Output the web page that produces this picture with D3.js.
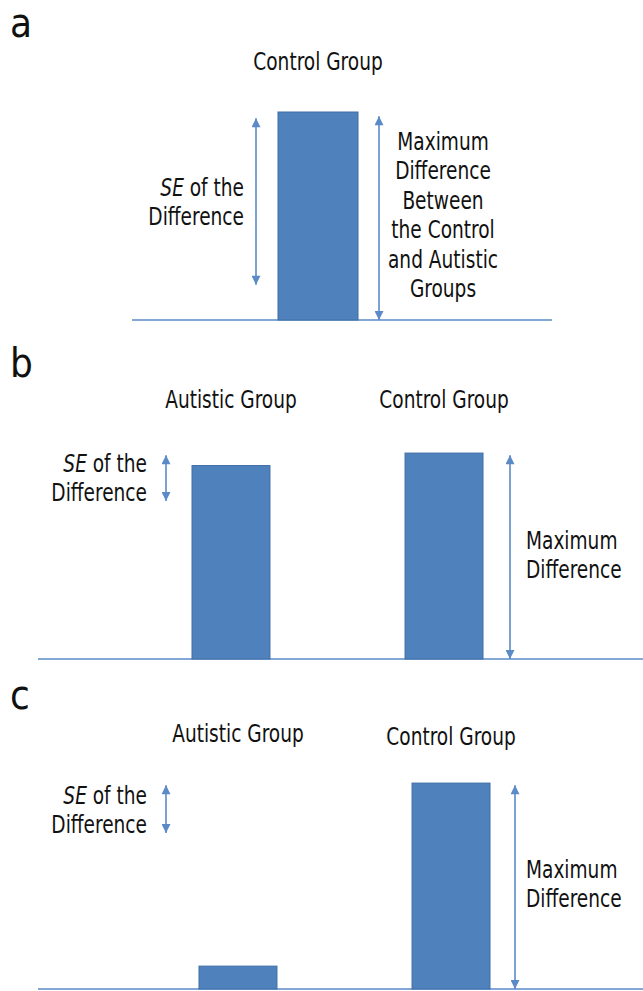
<!DOCTYPE html>
<html>
<head>
<meta charset="utf-8">
<script src="https://cdn.jsdelivr.net/npm/d3@7"></script>
<style>
  body { margin: 0; background: #fff; }
  svg text { font-family: "Liberation Sans Narrow", "DejaVu Sans Condensed", "Arial Narrow", sans-serif; fill: #111; }
</style>
</head>
<body>
<div id="chart"></div>
<script>
// Dados dos três painéis (altura das barras em unidades relativas, 100 = maior barra)
const panelLetters = ['a', 'b', 'c'];
const groupsA = ['Control Group'];
const valuesA = [100];
const groupsB = ['Autistic Group', 'Control Group'];
const valuesB = [93, 99];
const groupsC = ['Autistic Group', 'Control Group'];
const valuesC = [11, 99];

// Setas: [início, fim] em unidades do eixo y
const seArrowA = [17, 97];
const maxArrowA = [0, 98];
const seArrowB = [76, 98];
const maxArrowB = [0, 98];
const seArrowC = [75, 98];
const maxArrowC = [0, 98];

const seLabel = ['of the', 'Difference'];
const maxLabelA = ['Maximum', 'Difference', 'Between', 'the Control', 'and Autistic', 'Groups'];
const maxLabelBC = ['Maximum', 'Difference'];

const W = 643, H = 991;
const blue = '#4F81BD';
const lineBlue = '#5B8BC7';
const fontSize = 24;
const squeeze = 0.86; // fonte condensada

const svg = d3.select('#chart').append('svg')
  .attr('width', W)
  .attr('height', H);

// Marcadores de seta
const defs = svg.append('defs');
['start', 'end'].forEach(k => {
  defs.append('marker')
    .attr('id', 'arr-' + k)
    .attr('viewBox', '0 0 10 10')
    .attr('refX', k === 'end' ? 10 : 0)
    .attr('refY', 5)
    .attr('markerUnits', 'userSpaceOnUse')
    .attr('markerWidth', 10)
    .attr('markerHeight', 9)
    .attr('orient', 'auto')
    .append('path')
    .attr('d', k === 'end' ? 'M0,0 L10,5 L0,10 Z' : 'M10,0 L0,5 L10,10 Z')
    .attr('fill', lineBlue);
});

// Texto com várias linhas, comprimido na horizontal
function label(parent, x, y, anchor, lines, lh) {
  const t = parent.append('g')
    .attr('transform', `translate(${x},${y}) scale(${squeeze},1)`)
    .append('text')
    .attr('text-anchor', anchor)
    .style('font-size', fontSize + 'px');
  lines.forEach((line, i) => {
    const ts = t.append('tspan').attr('x', 0).attr('y', i * lh);
    if (typeof line === 'string') ts.text(line);
    else line(ts);
  });
  return t;
}

function drawPanel(cfg) {
  const g = svg.append('g');

  // Escalas
  const y = d3.scaleLinear().domain([0, 100]).range([cfg.base, cfg.base - 208]);
  const x = d3.scaleBand().domain(cfg.groups).range(cfg.xRange)
    .paddingInner(cfg.groups.length > 1 ? 0.634 : 0).paddingOuter(0);

  // Letra do painel
  g.append('text')
    .attr('x', 10)
    .attr('y', cfg.letterY)
    .style('font-size', '40px')
    .text(cfg.letter);

  // Linha de base
  g.append('line')
    .attr('x1', cfg.lineX[0]).attr('x2', cfg.lineX[1])
    .attr('y1', y(0)).attr('y2', y(0))
    .attr('stroke', lineBlue)
    .attr('stroke-width', 1.6);

  // Barras
  g.selectAll('.bar')
    .data(cfg.groups.map((k, i) => ({ k, v: cfg.values[i] })))
    .enter().append('rect')
    .attr('class', 'bar')
    .attr('x', d => x(d.k))
    .attr('y', d => y(d.v))
    .attr('width', x.bandwidth())
    .attr('height', d => y(0) - y(d.v))
    .attr('fill', blue)
    .attr('stroke', '#3F6EA6')
    .attr('stroke-width', 1);

  // Rótulos dos grupos
  cfg.groups.forEach((k, i) => {
    label(g, x(k) + x.bandwidth() / 2, cfg.labelY[i], 'middle', [k], 0);
  });

  // Setas
  function arrow(xPos, span) {
    g.append('line')
      .attr('x1', xPos).attr('x2', xPos)
      .attr('y1', y(span[1])).attr('y2', y(span[0]))
      .attr('stroke', lineBlue)
      .attr('stroke-width', 1.6)
      .attr('marker-start', 'url(#arr-start)')
      .attr('marker-end', 'url(#arr-end)');
  }
  arrow(cfg.seX, cfg.seArrow);
  arrow(cfg.maxX, cfg.maxArrow);

  // Texto "SE of the Difference"
  label(g, cfg.seTextX, cfg.seTextY, 'end', [
    ts => {
      ts.append('tspan').style('font-style', 'italic').text('SE');
      ts.append('tspan').text(' ' + seLabel[0]);
    },
    seLabel[1]
  ], 29);

  // Texto da diferença máxima
  label(g, cfg.maxTextX, cfg.maxTextY, cfg.maxAnchor, cfg.maxLabel, 29.5);
}

drawPanel({
  letter: panelLetters[0], letterY: 37, base: 320,
  groups: groupsA, values: valuesA, xRange: [278, 358],
  lineX: [132, 552], labelY: [70],
  seX: 256, seArrow: seArrowA, maxX: 379, maxArrow: maxArrowA,
  seTextX: 244, seTextY: 196,
  maxLabel: maxLabelA, maxAnchor: 'middle', maxTextX: 443, maxTextY: 150
});

drawPanel({
  letter: panelLetters[1], letterY: 377, base: 659,
  groups: groupsB, values: valuesB, xRange: [192, 483],
  lineX: [38, 643], labelY: [408, 408],
  seX: 166, seArrow: seArrowB, maxX: 510, maxArrow: maxArrowB,
  seTextX: 147, seTextY: 472,
  maxLabel: maxLabelBC, maxAnchor: 'start', maxTextX: 526, maxTextY: 549
});

drawPanel({
  letter: panelLetters[2], letterY: 709, base: 989,
  groups: groupsC, values: valuesC, xRange: [199, 490],
  lineX: [38, 643], labelY: [742, 745],
  seX: 166, seArrow: seArrowC, maxX: 515, maxArrow: maxArrowC,
  seTextX: 147, seTextY: 804,
  maxLabel: maxLabelBC, maxAnchor: 'start', maxTextX: 526, maxTextY: 878
});
</script>
</body>
</html>
